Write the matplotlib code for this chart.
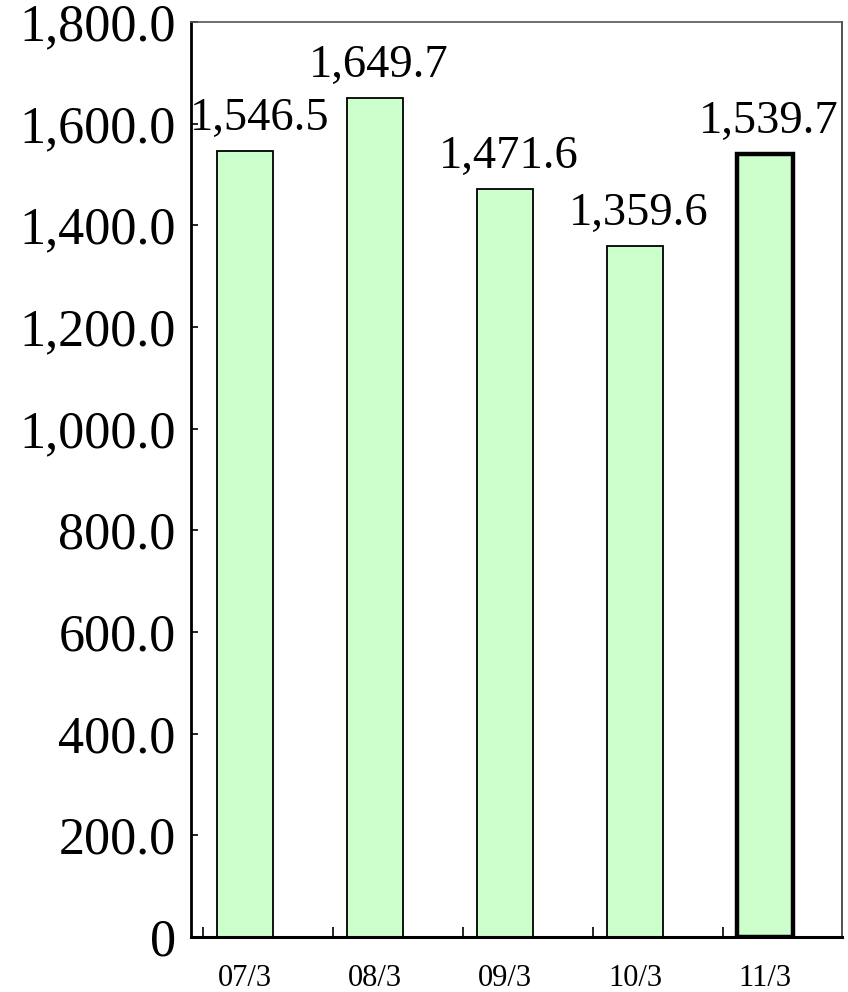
import numpy as np
import matplotlib.pyplot as plt
from matplotlib.ticker import FuncFormatter

# fiscal year-end periods and totals
periods = ['07/3', '08/3', '09/3', '10/3', '11/3']
values = [1546.5, 1649.7, 1471.6, 1359.6, 1539.7]
yticks = [0, 200, 400, 600, 800, 1000, 1200, 1400, 1600, 1800]

plt.rcParams['font.family'] = ['Liberation Serif', 'DejaVu Serif']

fig = plt.figure(figsize=(8.48, 9.92), dpi=100)
ax = fig.add_axes([0.2252, 0.0554, 0.9929 - 0.2252, 0.9778 - 0.0554])

x = np.arange(len(values))
widths = [1.3] * (len(values) - 1) + [3.2]
bars = ax.bar(x, values, width=0.43, color='#ccffcc', edgecolor='black',
              linewidth=widths, zorder=2)

for i, v in enumerate(values):
    dx = 0.11 if i == 0 else 0.03
    ax.text(i + dx, v + 22, f'{v:,.1f}', ha='center', va='bottom', fontsize=33.5)

ax.set_xlim(-0.415, 4.592)
ax.set_ylim(0, 1800)
ax.set_yticks(yticks)
ax.yaxis.set_major_formatter(FuncFormatter(lambda v, p: '0' if v == 0 else f'{v:,.1f}'))
ax.tick_params(axis='y', direction='in', length=5, width=1.2, labelsize=37.5, pad=11)

# category ticks sit left of each bar
ax.set_xticks(x - 0.323)
ax.set_xticklabels([])
ax.tick_params(axis='x', direction='in', length=7, width=1.2)
for i, p in enumerate(periods):
    ax.text(i, -0.030, p, transform=ax.get_xaxis_transform(), ha='center', va='top',
            fontsize=22)

ax.spines['left'].set_linewidth(2)
ax.spines['bottom'].set_linewidth(2.2)
ax.spines['top'].set_linewidth(1.2)
ax.spines['top'].set_color('#555555')
ax.spines['right'].set_linewidth(1.2)
ax.spines['right'].set_color('#333333')

fig.savefig('out.png', dpi=100)
